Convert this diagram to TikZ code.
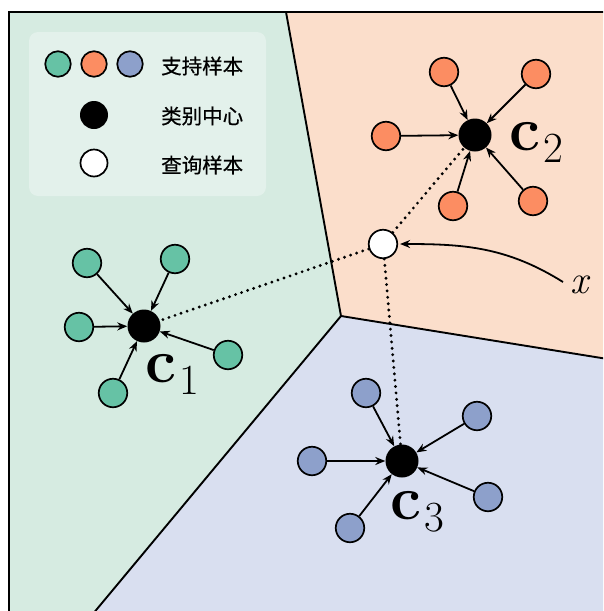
\documentclass[tikz,border=0pt]{standalone}
\usepackage{fontspec}
\newfontfamily\cjk[FakeBold=0.6]{Noto Sans CJK SC}
\usetikzlibrary{arrows.meta}

\definecolor{sgreen}{HTML}{66C2A5}
\definecolor{sorange}{HTML}{FC8D62}
\definecolor{sblue}{HTML}{8DA0CB}
\definecolor{rgreen}{HTML}{D6EBE1}
\definecolor{rorange}{HTML}{FBDECB}
\definecolor{rblue}{HTML}{D9DFF0}
\definecolor{legendbg}{HTML}{E3F1EB}

% bold c with a lowered index, set in scalable text fonts
\newcommand\protoname[1]{{\fontsize{62}{62}\selectfont\bfseries c}\kern3pt\raisebox{-12pt}{\fontsize{43}{43}\selectfont #1}}

\begin{document}
\begin{tikzpicture}[x=1pt,y=-1pt,
  support/.style={circle,draw=black,line width=1.7pt,minimum size=28.5pt,inner sep=0pt},
  proto/.style={circle,fill=black,minimum size=33pt,inner sep=0pt},
  query/.style={circle,draw=black,fill=white,line width=1.7pt,minimum size=28.5pt,inner sep=0pt},
  keysupport/.style={support,minimum size=25.5pt},
  keyproto/.style={proto,minimum size=28pt},
  keyquery/.style={query,minimum size=27pt},
  keytext/.style={anchor=west,inner sep=0pt,font=\cjk\fontsize{20.5}{21}\selectfont},
  pull/.style={line width=1.8pt,-{Stealth[length=10pt,width=8pt]}},
  link/.style={line width=3.2pt,dash pattern=on 0pt off 6.4pt,line cap=round},
  boundary/.style={line width=1.9pt,line join=round},
  clabel/.style={inner sep=0pt,anchor=base west},
]
\useasboundingbox (0,0) rectangle (603,611);
\clip (0,0) rectangle (603,611);
\fill[white] (0,0) rectangle (603,611);

% Voronoi cells
\coordinate (top) at (286,12);
\coordinate (mid) at (341,316);
\coordinate (rgt) at (620,361);
\coordinate (bot) at (92,615);
\fill[rgreen] (9,12) -- (top) -- (mid) -- (bot) -- (9,620) -- cycle;
\fill[rorange] (top) -- (620,12) -- (rgt) -- (mid) -- cycle;
\fill[rblue] (mid) -- (rgt) -- (620,620) -- (bot) -- cycle;
\draw[boundary] (top) -- (mid) -- (rgt);
\draw[boundary] (mid) -- (bot);
\draw[line width=2pt] (9,12) rectangle (640,650);

% legend
\fill[legendbg, rounded corners=9pt] (29,32) rectangle (266,196);
\node[keysupport,fill=sgreen]  (kg) at (58,64) {};
\node[keysupport,fill=sorange] (ko) at (94,64) {};
\node[keysupport,fill=sblue]   (kb) at (130,64) {};
\node[keyproto] (kp) at (94,115) {};
\node[keyquery] (kq) at (94,163) {};
\node[keytext] (t1) at (161,66) {支持样本};
\node[keytext] (t2) at (161,116) {类别中心};
\node[keytext] (t3) at (161,165) {查询样本};

% class 1
\node[proto] (c1) at (144,326) {};
\node[support,fill=sgreen] (g1) at (87,263) {};
\node[support,fill=sgreen] (g2) at (175,259) {};
\node[support,fill=sgreen] (g3) at (79,327) {};
\node[support,fill=sgreen] (g4) at (228,355) {};
\node[support,fill=sgreen] (g5) at (113,393) {};
\foreach \s in {g1,g2,g3,g4,g5} \draw[pull] (\s) -- (c1);
\node[clabel] (l1) at (145,382) {\protoname{1}};

% class 2
\node[proto] (c2) at (475,135) {};
\node[support,fill=sorange] (o1) at (444,72) {};
\node[support,fill=sorange] (o2) at (536,74) {};
\node[support,fill=sorange] (o3) at (386,136) {};
\node[support,fill=sorange] (o4) at (453,206) {};
\node[support,fill=sorange] (o5) at (533,201) {};
\foreach \s in {o1,o2,o3,o4,o5} \draw[pull] (\s) -- (c2);
\node[clabel] (l2) at (509,150) {\protoname{2}};

% class 3
\node[proto] (c3) at (402,461) {};
\node[support,fill=sblue] (b1) at (366,393) {};
\node[support,fill=sblue] (b2) at (477,416) {};
\node[support,fill=sblue] (b3) at (312,461) {};
\node[support,fill=sblue] (b4) at (488,497) {};
\node[support,fill=sblue] (b5) at (350,528) {};
\foreach \s in {b1,b2,b3,b4,b5} \draw[pull] (\s) -- (c3);
\node[clabel] (l3) at (390,519) {\protoname{3}};

% query point and its distances to the prototypes
\node[query] (q) at (383,244) {};
\draw[link] (q) -- (c1);
\draw[link] (q) -- (c2);
\draw[link] (q) -- (c3);

\node[inner sep=0pt,anchor=base west,font=\fontsize{40}{40}\selectfont\itshape] (xl) at (570,293) {x};
\coordinate (xs) at (563,282);
\draw[pull,shorten >=2pt] (xs) to[out=148,in=0] (q);
\end{tikzpicture}
\end{document}
